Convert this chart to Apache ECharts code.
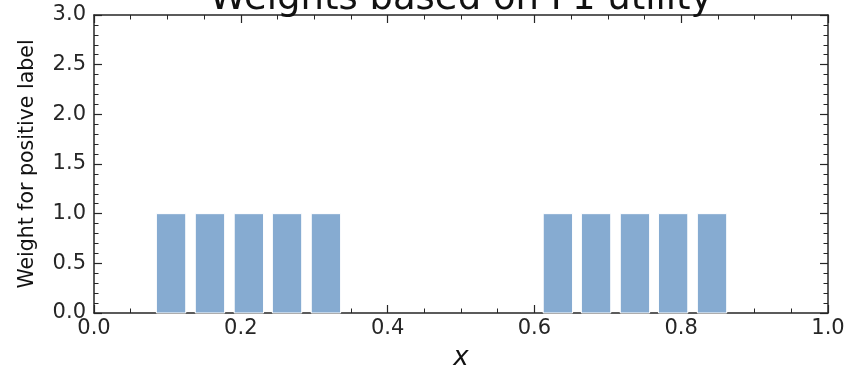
<!DOCTYPE html>
<html>
<head>
<meta charset="utf-8">
<script src="https://cdn.jsdelivr.net/npm/echarts@6/dist/echarts.min.js"></script>
<style>
  html, body { margin: 0; padding: 0; background: #fff; }
  #chart { width: 861px; height: 371px; }
</style>
</head>
<body>
<div id="chart"></div>
<script>
// Bin centres on x and the weight assigned to each bin
const binCenters = [0.105, 0.158, 0.211, 0.263, 0.316, 0.632, 0.684, 0.737, 0.789, 0.842];
const weights    = [1, 1, 1, 1, 1, 1, 1, 1, 1, 1];
const barWidth = 0.04;

const titleText = 'Weights based on F1 utility';
const xName = 'x';
const yName = 'Weight for positive label';

const FONT = 'DejaVu Sans';
const INK = '#262626';

const chart = echarts.init(document.getElementById('chart'), null, { renderer: 'canvas' });

const barData = binCenters.map((c, i) => [c, weights[i]]);

function frameAxis(extra) {
  return Object.assign({
    axisLine: { show: true, onZero: false, lineStyle: { color: INK, width: 1.5 } },
    axisTick: { show: true, inside: true, length: 8, lineStyle: { color: INK, width: 1.2 } },
    minorTick: { show: true, length: 4.5, lineStyle: { color: INK, width: 1 } },
    splitLine: { show: false },
    minorSplitLine: { show: false }
  }, extra);
}

chart.setOption({
  animation: false,
  backgroundColor: '#fff',
  title: {
    text: titleText,
    left: 456, textAlign: 'center',
    top: -24,
    textStyle: { fontFamily: FONT, fontSize: 37, fontWeight: 'normal', color: '#111' }
  },
  grid: { left: 94, right: 33, top: 15, bottom: 58, containLabel: false, outerBoundsMode: 'none' },
  xAxis: [
    frameAxis({
      type: 'value', min: 0, max: 1, interval: 0.2, position: 'bottom',
      minorTick: { show: true, splitNumber: 4, length: 4.5, lineStyle: { color: INK, width: 1 } },
      axisLabel: { fontFamily: FONT, fontSize: 21, color: INK, margin: 5,
                   formatter: v => v.toFixed(1) },
      name: xName, nameLocation: 'middle', nameGap: 32,
      nameTextStyle: { fontFamily: FONT, fontSize: 26, fontStyle: 'italic', color: '#111' }
    }),
    frameAxis({
      type: 'value', min: 0, max: 1, interval: 0.2, position: 'top',
      minorTick: { show: true, splitNumber: 4, length: 4.5, lineStyle: { color: INK, width: 1 } },
      axisLabel: { show: false }
    })
  ],
  yAxis: [
    frameAxis({
      type: 'value', min: 0, max: 3, interval: 0.5, position: 'left',
      minorTick: { show: true, splitNumber: 5, length: 4.5, lineStyle: { color: INK, width: 1 } },
      axisLabel: { fontFamily: FONT, fontSize: 21, color: INK, margin: 8,
                   formatter: v => v.toFixed(1) },
      name: yName, nameLocation: 'middle', nameGap: 56, nameRotate: 90,
      nameTextStyle: { fontFamily: FONT, fontSize: 20.5, color: '#111' }
    }),
    frameAxis({
      type: 'value', min: 0, max: 3, interval: 0.5, position: 'right',
      minorTick: { show: true, splitNumber: 5, length: 4.5, lineStyle: { color: INK, width: 1 } },
      axisLabel: { show: false }
    })
  ],
  series: [{
    type: 'custom',
    xAxisIndex: 0, yAxisIndex: 0,
    data: barData,
    encode: { x: 0, y: 1 },
    renderItem: function (params, api) {
      const c = api.value(0), v = api.value(1);
      const p0 = api.coord([c - barWidth / 2, v]);
      const p1 = api.coord([c + barWidth / 2, 0]);
      return {
        type: 'rect',
        shape: { x: p0[0], y: p0[1], width: p1[0] - p0[0], height: p1[1] - p0[1] },
        style: { fill: '#86abd1', stroke: '#ffffff', lineWidth: 1 }
      };
    },
    z: 1
  }]
});
</script>
</body>
</html>
